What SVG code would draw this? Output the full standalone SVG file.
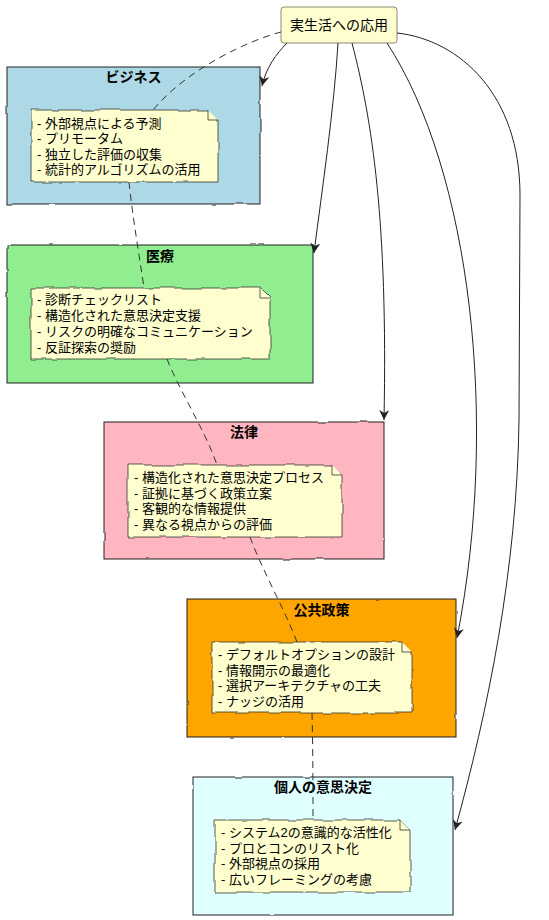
<svg xmlns="http://www.w3.org/2000/svg" width="549" height="920" viewBox="0 0 549 920">
<style>
  .pkg { stroke: #1f1f1f; stroke-width: 1; filter: url(#roughA); }
  .note { fill: #FEFECE; stroke: #333; stroke-width: 0.8; filter: url(#roughB); }
  .fold { fill: #FEFECE; stroke: #333; stroke-width: 0.8; }
  .title { font-family: "Liberation Sans", "Noto Sans CJK JP", sans-serif; font-size: 14px; font-weight: bold; fill: #000; text-anchor: middle; }
  .nt { font-family: "Liberation Sans", "Noto Sans CJK JP", sans-serif; font-size: 13px; fill: #000; }
  .arrow { fill: none; stroke: #222; stroke-width: 1; marker-end: url(#ah); }
  .dash { fill: none; stroke: #333; stroke-width: 1; stroke-dasharray: 7 5; }
</style>
<defs>
  <filter id="roughA" x="-5%" y="-5%" width="110%" height="110%">
    <feTurbulence type="fractalNoise" baseFrequency="0.06" numOctaves="2" seed="3" result="n"/>
    <feDisplacementMap in="SourceGraphic" in2="n" scale="2" xChannelSelector="R" yChannelSelector="G"/>
  </filter>
  <filter id="roughB" x="-5%" y="-8%" width="110%" height="116%">
    <feTurbulence type="fractalNoise" baseFrequency="0.05" numOctaves="2" seed="7" result="n"/>
    <feDisplacementMap in="SourceGraphic" in2="n" scale="4" xChannelSelector="R" yChannelSelector="G"/>
  </filter>
  <marker id="ah" markerUnits="userSpaceOnUse" markerWidth="11" markerHeight="10" refX="10" refY="5" orient="auto">
    <path d="M0,0 L10,5 L0,10 L3,5 Z" fill="#222"/>
  </marker>
</defs>

<g id="pkg-business">
  <rect class="pkg" x="7" y="67" width="253" height="137" fill="#ADD8E6"/>
  <text class="title" x="133.5" y="82">ビジネス</text>
</g>
<g id="note-business">
  <path class="note" d="M31,110 L208,110 L218,120 L218,182 L31,182 Z"/>
  <path class="fold" d="M208,110 L208,120 L218,120"/>
  <text class="nt" x="37" y="127.5">- 外部視点による予測</text>
  <text class="nt" x="37" y="143">- プリモータム</text>
  <text class="nt" x="37" y="158.5">- 独立した評価の収集</text>
  <text class="nt" x="37" y="174">- 統計的アルゴリズムの活用</text>
</g>

<g id="pkg-medical">
  <rect class="pkg" x="7" y="245" width="306" height="138" fill="#90EE90"/>
  <text class="title" x="160" y="261">医療</text>
</g>
<g id="note-medical">
  <path class="note" d="M31,288 L260,288 L270,298 L270,359 L31,359 Z"/>
  <path class="fold" d="M260,288 L260,298 L270,298"/>
  <text class="nt" x="37" y="304">- 診断チェックリスト</text>
  <text class="nt" x="37" y="320">- 構造化された意思決定支援</text>
  <text class="nt" x="37" y="336">- リスクの明確なコミュニケーション</text>
  <text class="nt" x="37" y="351.5">- 反証探索の奨励</text>
</g>

<g id="pkg-law">
  <rect class="pkg" x="104" y="422" width="280" height="137" fill="#FFB6C1"/>
  <text class="title" x="244" y="437">法律</text>
</g>
<g id="note-law">
  <path class="note" d="M128,465 L332,465 L342,475 L342,537 L128,537 Z"/>
  <path class="fold" d="M332,465 L332,475 L342,475"/>
  <text class="nt" x="134" y="482">- 構造化された意思決定プロセス</text>
  <text class="nt" x="134" y="497.5">- 証拠に基づく政策立案</text>
  <text class="nt" x="134" y="513">- 客観的な情報提供</text>
  <text class="nt" x="134" y="528.5">- 異なる視点からの評価</text>
</g>

<g id="pkg-policy">
  <rect class="pkg" x="187" y="599" width="269" height="138" fill="#FFA500"/>
  <text class="title" x="321.5" y="615">公共政策</text>
</g>
<g id="note-policy">
  <path class="note" d="M212,642 L402,642 L412,652 L412,713 L212,713 Z"/>
  <path class="fold" d="M402,642 L402,652 L412,652"/>
  <text class="nt" x="218" y="659">- デフォルトオプションの設計</text>
  <text class="nt" x="218" y="674.5">- 情報開示の最適化</text>
  <text class="nt" x="218" y="690">- 選択アーキテクチャの工夫</text>
  <text class="nt" x="218" y="705.5">- ナッジの活用</text>
</g>

<g id="pkg-personal">
  <rect class="pkg" x="193" y="777" width="260" height="138" fill="#E0FFFF"/>
  <text class="title" x="323" y="792">個人の意思決定</text>
</g>
<g id="note-personal">
  <path class="note" d="M215,820 L400,820 L410,830 L410,892 L215,892 Z"/>
  <path class="fold" d="M400,820 L400,830 L410,830"/>
  <text class="nt" x="221" y="837">- システム2の意識的な活性化</text>
  <text class="nt" x="221" y="852.5">- プロとコンのリスト化</text>
  <text class="nt" x="221" y="868">- 外部視点の採用</text>
  <text class="nt" x="221" y="883.5">- 広いフレーミングの考慮</text>
</g>

<g id="node-root">
  <rect x="281" y="7" width="116" height="36" rx="3" fill="#FEFECE" stroke="#8a8a70" stroke-width="1"/>
  <text x="339" y="30" font-family="'Liberation Sans', 'Noto Sans CJK JP', sans-serif" font-size="14" text-anchor="middle" fill="#000">実生活への応用</text>
</g>

<g id="connectors">
  <path class="arrow" d="M287,43 C276,54 266,68 262,86"/>
  <path class="arrow" d="M338,43 C334,110 322,190 314,253"/>
  <path class="arrow" d="M352,43 C372,120 388,220 384,420"/>
  <path class="arrow" d="M387,43 C470,170 500,420 457,638"/>
  <path class="arrow" d="M397,33 C460,40 520,95 520,195 L519,420 C517,570 488,710 455,830"/>
  <path class="dash" d="M281,32 C250,40 188,68 153,110"/>
  <path class="dash" d="M129,182 C133,220 140,260 144,288"/>
  <path class="dash" d="M167,359 C180,392 205,430 217,465"/>
  <path class="dash" d="M250,537 C262,570 285,610 297,642"/>
  <path class="dash" d="M312,713 C313,750 313,790 313,820"/>
</g>
</svg>
